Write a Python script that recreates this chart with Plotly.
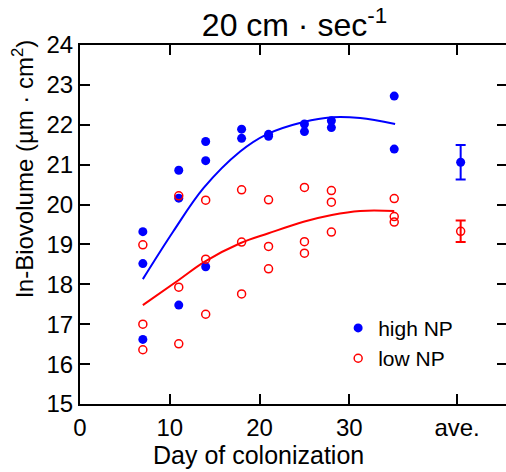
import plotly.graph_objects as go

# ---- data ----
days_high = [7, 7, 7, 11, 11, 11, 14, 14, 14, 18, 18, 21, 21, 25, 25, 28, 28, 35, 35]
high_vals = [19.32, 18.52, 16.62, 20.86, 20.16, 17.48, 21.58, 21.10, 18.44,
             21.89, 21.66, 21.76, 21.71, 22.02, 21.83, 22.10, 21.93, 22.72, 21.39]

days_low = [7, 7, 7, 11, 11, 11, 14, 14, 14, 18, 18, 18, 21, 21, 21, 25, 25, 25,
            28, 28, 28, 35, 35, 35]
low_vals = [18.99, 17.00, 16.36, 20.22, 17.93, 16.51, 20.11, 18.63, 17.25,
            20.37, 19.06, 17.76, 20.12, 18.95, 18.39, 20.43, 19.07, 18.78,
            20.35, 20.06, 19.31, 20.15, 19.70, 19.56]

high_fit_days = [7, 10.4, 13.75, 17.84, 20.8, 24.9, 28.05, 31.2, 35.1]
high_fit_vals = [18.13, 19.33, 20.41, 21.33, 21.76, 22.07, 22.19, 22.17, 22.02]
low_fit_days = [7, 11, 13.9, 17.84, 21, 24.9, 28.05, 31.2, 35]
low_fit_vals = [17.48, 18.11, 18.57, 19.03, 19.28, 19.57, 19.74, 19.84, 19.84]

ave_x = [42.4]
high_mean = [21.06]
high_err = [0.43]
low_mean = [19.33]
low_err = [0.27]

x_tick_vals = [0, 10, 20, 30, 42]
x_tick_text = ["0", "10", "20", "30", "ave."]
y_tick_vals = [15, 16, 17, 18, 19, 20, 21, 22, 23, 24]

BLUE = "#0000ff"
RED = "#ff0000"
FONT = "Arial, Liberation Sans, sans-serif"

fig = go.Figure()

fig.add_trace(go.Scatter(x=high_fit_days, y=high_fit_vals, mode="lines",
                         line=dict(color=BLUE, width=2, shape="spline", smoothing=1),
                         showlegend=False, hoverinfo="skip"))
fig.add_trace(go.Scatter(x=low_fit_days, y=low_fit_vals, mode="lines",
                         line=dict(color=RED, width=2, shape="spline", smoothing=1),
                         showlegend=False, hoverinfo="skip"))

fig.add_trace(go.Scatter(x=days_high, y=high_vals, mode="markers", name="high NP",
                         legendgroup="a",
                         marker=dict(color=BLUE, size=9, symbol="circle")))
fig.add_trace(go.Scatter(x=days_low, y=low_vals, mode="markers", name="low NP",
                         legendgroup="b",
                         marker=dict(color="rgba(0,0,0,0)", size=8, symbol="circle",
                                     line=dict(color=RED, width=1.5))))

fig.add_trace(go.Scatter(x=ave_x, y=high_mean, mode="markers", showlegend=False,
                         marker=dict(color=BLUE, size=9),
                         error_y=dict(type="data", array=high_err, color=BLUE,
                                      thickness=2, width=5)))
fig.add_trace(go.Scatter(x=ave_x, y=low_mean, mode="markers", showlegend=False,
                         marker=dict(color="rgba(0,0,0,0)", size=8,
                                     line=dict(color=RED, width=1.5)),
                         error_y=dict(type="data", array=low_err, color=RED,
                                      thickness=2, width=5)))

# right-side ticks without a visible line
fig.add_trace(go.Scatter(x=[None], y=[None], yaxis="y2", showlegend=False))

fig.update_layout(
    width=506, height=472,
    margin=dict(l=80, r=0, t=45, b=68),
    paper_bgcolor="white", plot_bgcolor="white",
    font=dict(family=FONT, color="black", size=24),
    title=dict(text="20 cm · sec<sup>-1</sup>", x=0.582, xanchor="center",
               y=1 - 25 / 472, yanchor="middle", yref="container",
               font=dict(size=32, family=FONT)),
    xaxis=dict(range=[0, 47.45], tickmode="array", tickvals=x_tick_vals,
               ticktext=x_tick_text, ticks="inside", ticklen=10, tickwidth=2,
               tickcolor="black", showline=True, linecolor="black", linewidth=2,
               mirror="ticks", showgrid=False, zeroline=False,
               tickfont=dict(size=24), ticklabelstandoff=1),
    yaxis=dict(range=[15, 24], tickmode="array", tickvals=y_tick_vals,
               ticks="inside", ticklen=10, tickwidth=2, tickcolor="black",
               showline=True, linecolor="black", linewidth=2, mirror=False,
               showgrid=False, zeroline=False, tickfont=dict(size=24)),
    yaxis2=dict(range=[15, 24], overlaying="y", side="right", tickmode="array",
                tickvals=y_tick_vals, ticks="inside", ticklen=9, tickwidth=2,
                tickcolor="black", showline=False, showticklabels=False,
                showgrid=False, zeroline=False),
    legend=dict(x=0.606, y=0.268, xanchor="left", yanchor="top",
                bgcolor="rgba(0,0,0,0)", font=dict(size=21, family=FONT),
                tracegroupgap=0, traceorder="grouped"),
    annotations=[
        dict(text="ln-Biovolume (µm · cm<sup>2</sup>)", xref="paper", yref="paper",
             x=(22.5 - 80) / 426, y=(404 - 169) / 359, textangle=-90,
             showarrow=False, xanchor="center", yanchor="middle",
             font=dict(size=24, family=FONT)),
        dict(text="Day of colonization", xref="paper", yref="paper",
             x=(258 - 80) / 426, y=(404 - 455) / 359, showarrow=False,
             xanchor="center", yanchor="middle", font=dict(size=25, family=FONT)),
    ],
)

fig.write_html("out.html")
